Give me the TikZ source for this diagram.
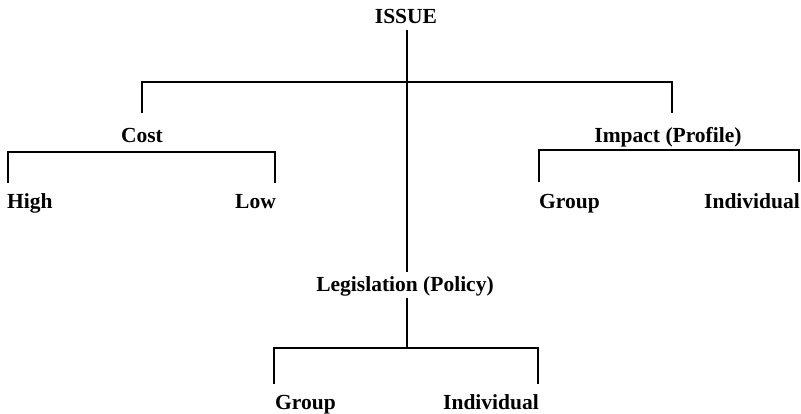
\documentclass[tikz,border=0pt]{standalone}
\usepackage{fontspec}
\setmainfont{Liberation Serif}
\begin{document}
\begin{tikzpicture}[x=1pt,y=-1pt,
  lab/.style={font=\fontsize{21.5}{23}\selectfont\bfseries, inner sep=0pt, anchor=base},
  labl/.style={lab, anchor=base west},
  labr/.style={lab, anchor=base east},
  ln/.style={line width=2.6pt, line cap=rect}]
\useasboundingbox (0,0) rectangle (801,413);
% labels
\node[lab] (issue) at (406,23) {ISSUE};
\node[lab] (cost) at (142,142) {Cost};
\node[lab] (impact) at (668,142) {Impact (Profile)};
\node[lab] (leg) at (405,291) {Legislation (Policy)};
\node[labl] (high) at (7,208) {High};
\node[labr] (low) at (276,208) {Low};
\node[labl] (igroup) at (539,208) {Group};
\node[labr] (iind) at (800,208) {Individual};
\node[labl] (lgroup) at (275,409) {Group};
\node[labr] (lind) at (539,409) {Individual};
% junction coordinates
\coordinate (t0) at (407,31);
\coordinate (t1) at (407,271);
\coordinate (bl) at (142,82);
\coordinate (br) at (672,82);
\coordinate (blc) at (142,112);
\coordinate (brc) at (672,112);
\coordinate (cl) at (8,152);
\coordinate (cr) at (275,152);
\coordinate (cld) at (8,182);
\coordinate (crd) at (275,182);
\coordinate (il) at (539,150);
\coordinate (ir) at (799,150);
\coordinate (ild) at (539,181);
\coordinate (ird) at (799,181);
\coordinate (l0) at (407,299);
\coordinate (l1) at (407,348);
\coordinate (ll) at (274,348);
\coordinate (lr) at (538,348);
\coordinate (lld) at (274,383);
\coordinate (lrd) at (538,383);
% connectors
\draw[ln] (t0) -- (t1);
\draw[ln] (blc) -- (bl) -- (br) -- (brc);
\draw[ln] (cld) -- (cl) -- (cr) -- (crd);
\draw[ln] (ild) -- (il) -- (ir) -- (ird);
\draw[ln] (l0) -- (l1);
\draw[ln] (lld) -- (ll) -- (lr) -- (lrd);
\end{tikzpicture}
\end{document}
